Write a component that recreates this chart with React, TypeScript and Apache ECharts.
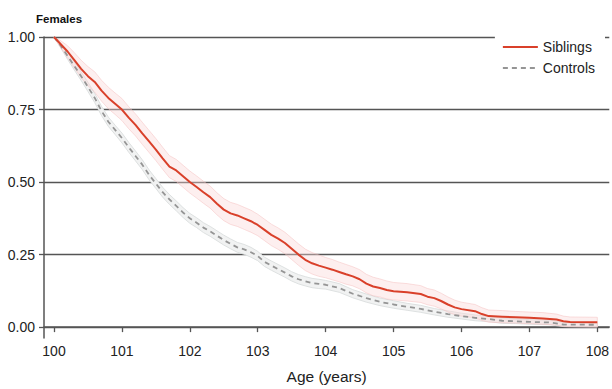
import React, { useEffect, useRef } from "react";
import * as echarts from "echarts";

const xTicks = [100, 101, 102, 103, 104, 105, 106, 107, 108];
const yTicks = [0, 0.25, 0.5, 0.75, 1];

const sibAges = [
  100.0, 100.1, 100.2, 100.3, 100.4, 100.5, 100.6, 100.7, 100.8, 100.9,
  101.0, 101.1, 101.2, 101.3, 101.4, 101.5, 101.6, 101.7, 101.8, 101.9,
  102.0, 102.1, 102.2, 102.3, 102.4, 102.5, 102.6, 102.7, 102.8, 102.9,
  103.0, 103.1, 103.2, 103.3, 103.4, 103.5, 103.6, 103.7, 103.8, 103.9,
  104.0, 104.1, 104.2, 104.3, 104.4, 104.5, 104.6, 104.7, 104.8, 104.9,
  105.0, 105.2, 105.4, 105.5, 105.6, 105.7, 105.8, 105.9, 106.0, 106.2,
  106.3, 106.4, 106.6, 106.8, 107.0, 107.2, 107.4, 107.5, 107.6, 108.0,
];
const sibSurv = [
  1.0, 0.975, 0.95, 0.92, 0.89, 0.865, 0.845, 0.815, 0.79, 0.77,
  0.75, 0.722, 0.697, 0.668, 0.64, 0.612, 0.582, 0.553, 0.54, 0.52,
  0.5, 0.483, 0.465, 0.448, 0.425, 0.405, 0.392, 0.385, 0.375, 0.365,
  0.352, 0.335, 0.318, 0.305, 0.29, 0.27, 0.25, 0.232, 0.22, 0.212,
  0.205, 0.198, 0.19, 0.182, 0.175, 0.165, 0.15, 0.14, 0.135, 0.128,
  0.124, 0.12, 0.114, 0.105, 0.1, 0.09, 0.078, 0.068, 0.062, 0.055,
  0.045, 0.038, 0.036, 0.034, 0.032, 0.03, 0.026, 0.02, 0.018, 0.017,
];
const sibHalf = [
  0, 0.012, 0.02, 0.026, 0.03, 0.033, 0.035, 0.036, 0.037, 0.037,
  0.038, 0.038, 0.038, 0.038, 0.038, 0.038, 0.038, 0.038, 0.038, 0.038,
  0.038, 0.038, 0.038, 0.038, 0.038, 0.038, 0.038, 0.038, 0.038, 0.038,
  0.037, 0.037, 0.037, 0.037, 0.037, 0.037, 0.037, 0.037, 0.037, 0.037,
  0.035, 0.035, 0.034, 0.034, 0.033, 0.033, 0.032, 0.032, 0.031, 0.031,
  0.03, 0.03, 0.029, 0.028, 0.028, 0.027, 0.026, 0.025, 0.024, 0.023,
  0.022, 0.021, 0.021, 0.02, 0.02, 0.02, 0.019, 0.018, 0.017, 0.017,
];

const ctrlAges = [
  100.0, 100.1, 100.2, 100.3, 100.4, 100.5, 100.6, 100.7, 100.8, 100.9,
  101.0, 101.1, 101.2, 101.3, 101.4, 101.5, 101.6, 101.7, 101.8, 101.9,
  102.0, 102.1, 102.2, 102.3, 102.4, 102.5, 102.6, 102.7, 102.8, 102.9,
  103.0, 103.1, 103.2, 103.3, 103.4, 103.5, 103.6, 103.7, 103.8, 103.9,
  104.0, 104.2, 104.4, 104.6, 104.8, 105.0, 105.2, 105.4, 105.6, 105.8,
  106.0, 106.2, 106.4, 106.6, 106.8, 107.0, 107.3, 107.5, 108.0,
];
const ctrlSurv = [
  1.0, 0.97, 0.935, 0.9, 0.865, 0.828, 0.79, 0.745, 0.708, 0.68,
  0.652, 0.62, 0.59, 0.56, 0.525, 0.495, 0.465, 0.44, 0.418, 0.395,
  0.375, 0.36, 0.343, 0.33, 0.315, 0.3, 0.287, 0.275, 0.268, 0.258,
  0.245, 0.225, 0.212, 0.2, 0.188, 0.175, 0.165, 0.158, 0.152, 0.149,
  0.146, 0.135, 0.115, 0.1, 0.087, 0.078, 0.07, 0.063, 0.053, 0.045,
  0.038, 0.032, 0.028, 0.022, 0.02, 0.018, 0.016, 0.009, 0.008,
];
const ctrlHalf = [
  0, 0.008, 0.012, 0.014, 0.015, 0.016, 0.016, 0.016, 0.016, 0.016,
  0.017, 0.017, 0.017, 0.017, 0.017, 0.017, 0.017, 0.017, 0.017, 0.017,
  0.017, 0.017, 0.017, 0.017, 0.017, 0.017, 0.017, 0.017, 0.017, 0.017,
  0.016, 0.016, 0.016, 0.016, 0.016, 0.016, 0.016, 0.016, 0.016, 0.016,
  0.015, 0.015, 0.014, 0.014, 0.013, 0.013, 0.012, 0.012, 0.011, 0.011,
  0.01, 0.01, 0.009, 0.009, 0.008, 0.008, 0.008, 0.007, 0.007,
];

function bandData(ages: number[], surv: number[], half: number[]) {
  return ages.map((a, i) => [a, Math.max(0, surv[i] - half[i]), Math.min(1, surv[i] + half[i])]);
}

function bandSeries(name: string, data: number[][], fill: string, edge: string) {
  return {
    type: "custom",
    name,
    silent: true,
    clip: true,
    encode: { x: 0, y: [1, 2] },
    data,
    z: 1,
    renderItem: (params: any, api: any) => {
      if (params.dataIndex !== 0) return null;
      const up: number[][] = [];
      const lo: number[][] = [];
      for (let i = 0; i < data.length; i++) {
        const [a, l, h] = data[i];
        up.push(api.coord([a, h]));
        lo.push(api.coord([a, l]));
      }
      const pts = up.concat(lo.reverse());
      return {
        type: "polygon",
        shape: { points: pts },
        style: { fill, stroke: edge, lineWidth: 0.9 },
      };
    },
  };
}

export default function App() {
  const ref = useRef<HTMLDivElement>(null);
  useEffect(() => {
    if (!ref.current) return;
    const chart = echarts.init(ref.current, null, { renderer: "svg" });
    const axisColor = "#555";
    chart.setOption({
      animation: false,
      backgroundColor: "#fff",
      textStyle: { fontFamily: "Liberation Sans, Arial, sans-serif" },
      title: {
        text: "Females",
        left: 31,
        top: 8,
        textStyle: { fontSize: 11.5, fontWeight: "bold", color: "#111" },
      },
      legend: {
        orient: "vertical",
        right: 7,
        top: 35,
        padding: [5, 10, 5, 7],
        itemGap: 7,
        itemWidth: 35,
        itemHeight: 14,
        backgroundColor: "#fff",
        itemStyle: { opacity: 0 },
        data: ["Siblings", "Controls"],
        textStyle: { fontSize: 14, color: "#222" },
      },
      grid: { left: 44, right: 0, top: 37, bottom: 48 },
      xAxis: {
        type: "value",
        min: 99.853,
        max: 108.176,
        name: "Age (years)",
        nameLocation: "middle",
        nameGap: 30,
        nameTextStyle: { fontSize: 15.5, color: "#222" },
        axisLine: { show: true, lineStyle: { color: axisColor, width: 1.5 } },
        axisTick: { show: true, length: 5, customValues: xTicks, lineStyle: { color: axisColor, width: 1.3 } },
        axisLabel: { customValues: xTicks, fontSize: 14, color: "#222", margin: 6 },
        splitLine: { show: false },
      },
      yAxis: {
        type: "value",
        min: -0.0375,
        max: 1,
        axisLine: { show: true, lineStyle: { color: axisColor, width: 1.5 } },
        axisTick: { show: true, length: 5, customValues: yTicks, lineStyle: { color: axisColor, width: 1.3 } },
        axisLabel: {
          customValues: yTicks,
          fontSize: 14,
          color: "#222",
          margin: 9,
          formatter: (v: number) => v.toFixed(2),
        },
        splitLine: { show: true, lineStyle: { color: axisColor, width: 1.3 } },
      },
      series: [
        bandSeries("ctrlBand", bandData(ctrlAges, ctrlSurv, ctrlHalf), "#f1f2f2", "#dadede"),
        bandSeries("sibBand", bandData(sibAges, sibSurv, sibHalf), "rgba(250,215,215,0.4)", "rgba(245,190,190,0.55)"),
        {
          type: "line",
          name: "Controls",
          symbol: "none",
          z: 3,
          data: ctrlAges.map((a, i) => [a, ctrlSurv[i]]),
          lineStyle: { color: "#959595", width: 1.8, type: [5, 4] },
          itemStyle: { color: "#959595" },
        },
        {
          type: "line",
          name: "Siblings",
          symbol: "none",
          z: 4,
          data: sibAges.map((a, i) => [a, sibSurv[i]]),
          lineStyle: { color: "#d9402a", width: 2 },
          itemStyle: { color: "#d9402a" },
        },
      ],
    });
    return () => chart.dispose();
  }, []);
  return (
    <div
      ref={ref}
      style={{ position: "fixed", left: 0, top: 0, width: 612, height: 389, background: "#fff" }}
    />
  );
}
